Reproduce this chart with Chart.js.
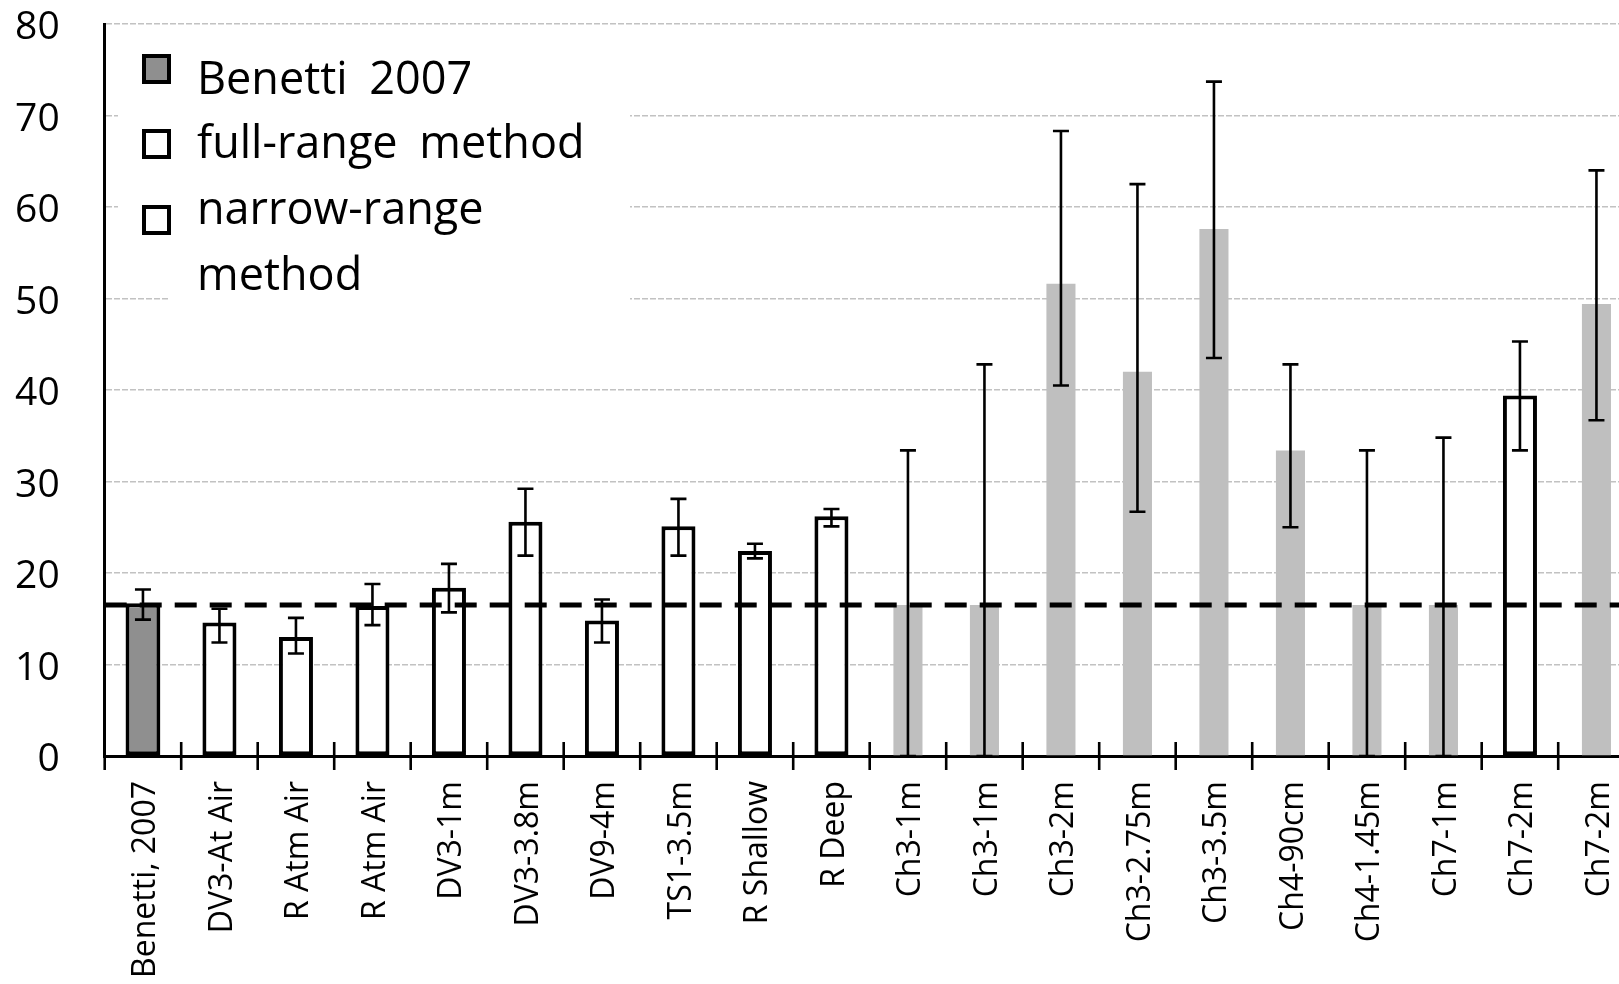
<!DOCTYPE html>
<html>
<head>
<meta charset="utf-8">
<script src="https://cdn.jsdelivr.net/npm/chart.js@4.4.0/dist/chart.umd.min.js"></script>
<style>
  html, body { margin:0; padding:0; background:#fff; overflow:hidden; width:1619px; height:984px; }
  #wrap { position:absolute; left:0; top:0; width:1645px; height:984px; }
</style>
</head>
<body>
<div id="wrap"><canvas id="c" width="1645" height="984"></canvas></div>
<script>
// ---- data ----
const categories = ['Benetti, 2007','DV3-At Air','R Atm Air','R Atm Air','DV3-1m','DV3-3.8m','DV9-4m','TS1-3.5m','R Shallow','R Deep',
                    'Ch3-1m','Ch3-1m','Ch3-2m','Ch3-2.75m','Ch3-3.5m','Ch4-90cm','Ch4-1.45m','Ch7-1m','Ch7-2m','Ch7-2m'];
const seriesLabels = ['Benetti 2007', 'full-range method', 'narrow-range method'];
const benetti     = [16.7, null,null,null,null,null,null,null,null,null, null,null,null,null,null,null,null,null,null,null];
const fullRange   = [null, 14.6, 13.0, 16.4, 18.4, 25.6, 14.8, 25.1, 22.4, 26.2, null,null,null,null,null,null,null,null, 39.4, null];
const narrowRange = [null,null,null,null,null,null,null,null,null,null, 16.5, 16.5, 51.6, 42.0, 57.6, 33.4, 16.5, 16.5, null, 49.4];
const errLow      = [14.9, 12.4, 11.2, 14.3, 15.7, 21.9, 12.4, 21.9, 21.6, 25.1, 0, 0, 40.5, 26.7, 43.5, 25.0, 0, 0, 33.4, 36.7];
const errHigh     = [18.2, 16.1, 15.1, 18.8, 21.0, 29.2, 17.1, 28.1, 23.2, 27.0, 33.4, 42.8, 68.3, 62.5, 73.7, 42.8, 33.4, 34.8, 45.3, 64.0];
const refLine = 16.5;
const yTicks = [0, 10, 20, 30, 40, 50, 60, 70, 80];

const FONT = "'Open Sans', 'Noto Sans', sans-serif";

const overlay = {
  id: 'overlay',
  afterDatasetsDraw(chart) {
    const ctx = chart.ctx;
    const x = chart.scales.x, y = chart.scales.y, a = chart.chartArea;
    ctx.save();
    // dashed reference line
    const yr = y.getPixelForValue(refLine);
    ctx.strokeStyle = '#000';
    ctx.lineWidth = 5;
    ctx.setLineDash([22, 13]);
    ctx.beginPath(); ctx.moveTo(a.left, yr); ctx.lineTo(a.right, yr); ctx.stroke();
    ctx.setLineDash([]);
    // error bars
    ctx.lineWidth = 2.6;
    ctx.lineCap = 'butt';
    categories.forEach((c, i) => {
      const px = x.getPixelForValue(i);
      const lo = y.getPixelForValue(errLow[i]);
      const hi = y.getPixelForValue(errHigh[i]);
      ctx.beginPath();
      ctx.moveTo(px, lo); ctx.lineTo(px, hi);
      ctx.moveTo(px - 8, hi); ctx.lineTo(px + 8, hi);
      ctx.moveTo(px - 8, lo); ctx.lineTo(px + 8, lo);
      ctx.stroke();
    });
    // category boundary ticks crossing the x axis
    const step = x.getPixelForValue(1) - x.getPixelForValue(0);
    ctx.lineWidth = 2.6;
    ctx.beginPath();
    for (let i = 0; i <= categories.length; i++) {
      const bx = x.getPixelForValue(0) - step / 2 + i * step;
      ctx.moveTo(bx, a.bottom - 14); ctx.lineTo(bx, a.bottom + 14);
    }
    ctx.stroke();
    ctx.restore();
  },
  afterDraw(chart) {
    const ctx = chart.ctx;
    ctx.save();
    // white legend background hiding the gridlines behind it
    ctx.fillStyle = '#fff';
    ctx.fillRect(118, 30, 512, 262);
    ctx.fillRect(170, 290, 460, 16);
    // legend markers
    const fills = ['#8f8f8f', '#ffffff', '#ffffff'];
    const tops = [56, 131, 207];
    ctx.lineWidth = 4;
    ctx.strokeStyle = '#000';
    tops.forEach((t, i) => {
      ctx.fillStyle = fills[i];
      ctx.fillRect(144, t, 25, 26);
      ctx.strokeRect(144, t, 25, 26);
    });
    // legend text
    ctx.fillStyle = '#000';
    ctx.font = '45px ' + FONT;
    ctx.textBaseline = 'alphabetic';
    ctx.textAlign = 'left';
    try { ctx.wordSpacing = '10px'; } catch (e) {}
    const lines = [[seriesLabels[0], 94], [seriesLabels[1], 158], ['narrow-range', 224], ['method', 290]];
    lines.forEach(([t, by]) => ctx.fillText(t, 197, by));
    ctx.restore();
  }
};

const ctxEl = document.getElementById('c');
new Chart(ctxEl, {
  type: 'bar',
  data: {
    labels: categories,
    datasets: [
      { label: seriesLabels[0], data: benetti, backgroundColor: '#8f8f8f', borderColor: '#000', borderWidth: 4,
        borderSkipped: false, barPercentage: 0.455, categoryPercentage: 1, grouped: false },
      { label: seriesLabels[1], data: fullRange, backgroundColor: '#ffffff', borderColor: '#000', borderWidth: 4,
        borderSkipped: false, barPercentage: 0.445, categoryPercentage: 1, grouped: false },
      { label: seriesLabels[2], data: narrowRange, backgroundColor: '#bfbfbf', borderWidth: 0,
        barPercentage: 0.38, categoryPercentage: 1, grouped: false }
    ]
  },
  options: {
    responsive: false,
    animation: false,
    devicePixelRatio: 1,
    layout: { padding: { top: 24, right: 10.3, left: 0, bottom: 0 } },
    plugins: { legend: { display: false }, tooltip: { enabled: false } },
    scales: {
      x: {
        offset: true,
        grid: { display: true, drawOnChartArea: false, drawTicks: true, tickLength: 25, tickColor: 'rgba(0,0,0,0)' },
        border: { display: true, color: '#000', width: 3 },
        ticks: { autoSkip: false, maxRotation: 90, minRotation: 90, color: '#000', padding: 0, labelOffset: 3,
                 font: { family: FONT, size: 32 } },
        afterFit(s) { s.height = 228; }
      },
      y: {
        min: 0, max: 80,
        afterBuildTicks(s) { s.ticks = yTicks.map(v => ({ value: v })); },
        grid: { color: '#c2c2c2', lineWidth: 1.6, drawTicks: true, tickLength: 45, tickColor: 'rgba(0,0,0,0)' },
        border: { display: true, color: '#000', width: 3, dash: [6, 2] },
        ticks: { color: '#000', padding: 0, labelOffset: 4, font: { family: FONT, size: 39 } },
        afterFit(s) { s.width = 104.7; }
      }
    }
  },
  plugins: [overlay]
});
</script>
</body>
</html>
